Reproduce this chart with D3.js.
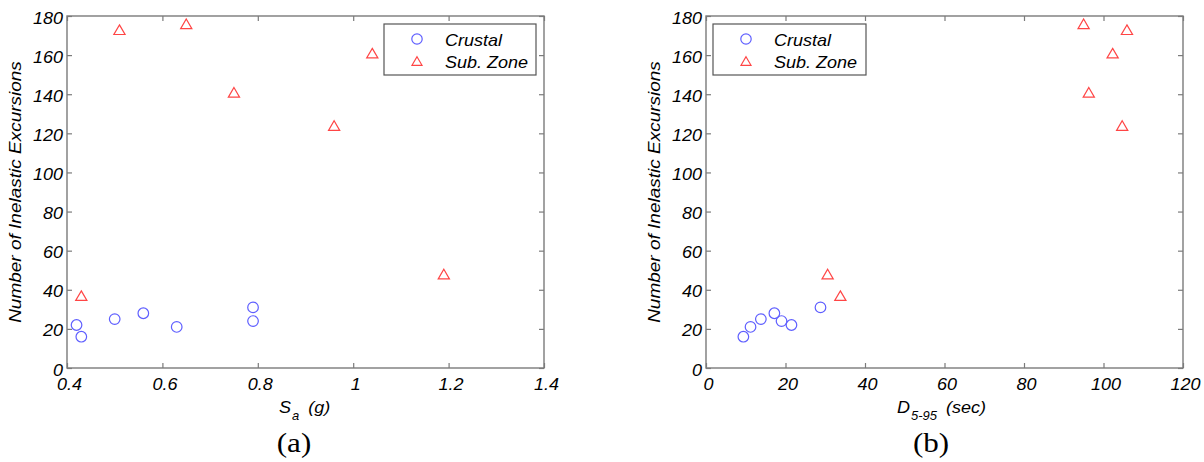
<!DOCTYPE html>
<html><head><meta charset="utf-8">
<script src="https://cdn.jsdelivr.net/npm/d3@7"></script>
<style>
html,body{margin:0;padding:0;background:#fff;}
svg{display:block;}
text{font-family:"Liberation Sans",Arial,sans-serif;font-style:italic;fill:#000;}
</style></head>
<body>
<svg id="c" width="1204" height="462"></svg>
<script>
// ---- data ----
const crustalN  = [16, 21, 25, 28, 24, 22, 31];
const crustalSa = [0.43, 0.63, 0.50, 0.56, 0.79, 0.42, 0.79];
const crustalD  = [9.4, 11.2, 13.8, 17.2, 19.0, 21.5, 28.8];
const subN  = [48, 37, 176, 173, 161, 141, 124];
const subSa = [1.19, 0.43, 0.65, 0.51, 1.04, 0.75, 0.96];
const subD  = [30.6, 33.8, 95.0, 105.9, 102.3, 96.3, 104.7];
const seriesNames = ["Crustal", "Sub. Zone"];
const yTicks = [0, 20, 40, 60, 80, 100, 120, 140, 160, 180];
const xTicksA = [0.4, 0.6, 0.8, 1.0, 1.2, 1.4];
const xTicksB = [0, 20, 40, 60, 80, 100, 120];
const yLabel = "Number of Inelastic Excursions";

const svg = d3.select("#c");
const SY = 0.93; // slight vertical squash of glyphs seen in the reference
const blue = "#5f5fff", red = "#ff4545", frame = "#7b7b7b";

function tri(s){ return `M0,${-0.86*s}L${s},${0.86*s}L${-s},${0.86*s}Z`; }

function panel(opt){
  const x = d3.scaleLinear().domain(opt.xdom).range([opt.x0, opt.x1]);
  const y = d3.scaleLinear().domain([0,180]).range([368, 16]);
  const g = svg.append("g");

  // frame
  g.append("rect").attr("x",opt.x0).attr("y",16).attr("width",opt.x1-opt.x0).attr("height",352)
    .attr("fill","none").attr("stroke",frame).attr("stroke-width",1.4);

  const styleAx = sel => { sel.select(".domain").remove(); sel.selectAll(".tick line").attr("stroke",frame).attr("stroke-width",1.2); };

  // bottom axis
  const gb = g.append("g").attr("transform","translate(0,368)")
    .call(d3.axisBottom(x).tickValues(opt.xticks).tickSizeInner(-5).tickSizeOuter(0).tickFormat(opt.fmt));
  styleAx(gb);
  gb.selectAll(".tick text").attr("y",0).attr("dy",null).attr("fill","#000")
    .attr("font-size",18).attr("font-family",null)
    .attr("transform",`translate(2,22) scale(1,${SY})`);
  // top ticks
  const gt = g.append("g").attr("transform","translate(0,16)")
    .call(d3.axisTop(x).tickValues(opt.xticks).tickSizeInner(-5).tickSizeOuter(0).tickFormat(""));
  styleAx(gt);
  // left axis
  const gl = g.append("g").attr("transform",`translate(${opt.x0},0)`)
    .call(d3.axisLeft(y).tickValues(yTicks).tickSizeInner(-5).tickSizeOuter(0));
  styleAx(gl);
  gl.selectAll(".tick text").attr("x",0).attr("dy",null).attr("fill","#000")
    .attr("font-size",18).attr("font-family",null)
    .attr("transform",`translate(-4,7) scale(1,${SY})`);
  // right ticks
  const gr = g.append("g").attr("transform",`translate(${opt.x1},0)`)
    .call(d3.axisRight(y).tickValues(yTicks).tickSizeInner(-5).tickSizeOuter(0).tickFormat(""));
  styleAx(gr);

  // points
  g.selectAll(".c").data(d3.range(crustalN.length)).join("circle")
    .attr("cx",i=>x(opt.cx[i])).attr("cy",i=>y(crustalN[i])).attr("r",5.3)
    .attr("fill","none").attr("stroke",blue).attr("stroke-width",1.2);
  g.selectAll(".t").data(d3.range(subN.length)).join("path")
    .attr("d",tri(5.6)).attr("transform",i=>`translate(${x(opt.sx[i])},${y(subN[i])})`)
    .attr("fill","none").attr("stroke",red).attr("stroke-width",1.2);

  // y label
  g.append("text").attr("text-anchor","middle").attr("font-size",19)
    .attr("transform",`translate(${opt.x0-46},192) rotate(-90) scale(1,0.9)`).text(yLabel);

  // x label
  const xl = g.append("text").attr("text-anchor","start").attr("font-size",18)
    .attr("transform",`translate(${opt.xlabX},413) scale(1,${SY})`);
  opt.xlab(xl);

  // panel letter
  g.append("text").attr("text-anchor","middle").attr("font-size",27)
    .style("font-family","'Liberation Serif','Times New Roman',serif").style("font-style","normal")
    .attr("transform",`translate(${opt.letterX},452) scale(1.15,1)`).text(opt.letter);

  // legend
  const L = opt.leg;
  g.append("rect").attr("x",L[0]).attr("y",24).attr("width",L[1]-L[0]).attr("height",51)
    .attr("fill","#fff").attr("stroke","#555").attr("stroke-width",1.2);
  g.append("circle").attr("cx",L[0]+33).attr("cy",39).attr("r",5.2)
    .attr("fill","none").attr("stroke",blue).attr("stroke-width",1.2);
  g.append("path").attr("d",tri(5)).attr("transform",`translate(${L[0]+33},61)`)
    .attr("fill","none").attr("stroke",red).attr("stroke-width",1.2);
  seriesNames.forEach((s,i)=>{
    g.append("text").attr("font-size",18)
      .attr("transform",`translate(${L[0]+61},${[45.5,67.5][i]}) scale(1,${SY})`).text(s);
  });
}

panel({
  xdom:[0.4,1.4], x0:67, x1:544, xticks:xTicksA, fmt:d=>d3.format("")(+d.toFixed(1)),
  cx:crustalSa, sx:subSa, xlabX:279, letterX:294, letter:"(a)", leg:[384,536],
  xlab:t=>{ t.append("tspan").text("S");
            t.append("tspan").attr("font-size",13).attr("dy",8).attr("dx",1).text("a");
            t.append("tspan").attr("dy",-8).attr("dx",9).text("(g)"); }
});
panel({
  xdom:[0,120], x0:706, x1:1183, xticks:xTicksB, fmt:d3.format("d"),
  cx:crustalD, sx:subD, xlabX:897, letterX:931, letter:"(b)", leg:[713,866],
  xlab:t=>{ t.append("tspan").text("D");
            t.append("tspan").attr("font-size",13).attr("dy",8).attr("dx",1).text("5-95");
            t.append("tspan").attr("dy",-8).attr("dx",9).text("(sec)"); }
});
</script>
</body></html>
